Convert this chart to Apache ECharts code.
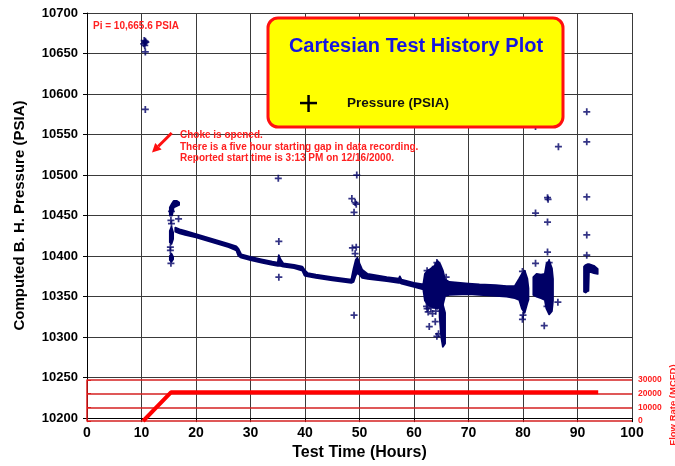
<!DOCTYPE html>
<html>
<head>
<meta charset="utf-8">
<script src="https://cdn.jsdelivr.net/npm/echarts@6/dist/echarts.min.js"></script>
<style>
  html, body { margin: 0; padding: 0; background: #fff; }
  #chart { width: 675px; height: 466px; }
</style>
</head>
<body>
<div id="chart"></div>
<script>
// dense pressure record, read as envelope (low/high) per hour; null breaks a run
const bandHours = [15.2,15.6,15.9,16.5,16.9, null,
  15.2,15.5,15.8, null,
  15.2,15.5,15.8, null,
  16.2,17,18,20,22,24,26,27.4,27.8,28.3,30,32,34,35.0,35.2,35.5,36,38,39.5,39.9,40.5,42,45,48.5,48.9,49.3,49.6,50,50.5,51.5,55,57.2,57.4,57.7,60,61.7,62,62.5,63,63.8,64.3,64.8,65.3,65.7,66.5,70,72,75,77,78.5,79.3,79.8,80.3,80.8,81.0, null,
  64.7,65.0,65.3,65.7, null,
  81.9,82.5,83.3,84,84.3,84.8,85.3,85.5, null,
  91.2,91.5,91.9,92.0,92.1,93,93.7];
const bandLow = [10450,10450,10460,10462,10463, null,
  10417,10415,10421, null,
  10395,10393,10396, null,
  10430,10428,10426,10423,10419,10415,10411,10407,10400,10398,10395,10392,10389,10388,10388,10388,10387,10385,10382,10376,10375,10373,10370,10367,10368,10376,10379,10377,10373,10372,10369,10367,10367,10366,10362,10359,10345,10340,10338,10336,10335,10338,10340,10351,10352,10353,10352,10351,10350,10348,10346,10335,10330,10342,10346, null,
  10325,10300,10288,10292, null,
  10352,10350,10348,10346,10335,10328,10332,10345, null,
  10356,10355,10357,10357,10381,10379,10378];
const bandHigh = [10460,10465,10468,10468,10466, null,
  10431,10436,10429, null,
  10400,10403,10399, null,
  10435,10433,10431,10427,10423,10419,10415,10412,10409,10402,10399,10396,10393,10392,10401,10396,10391,10389,10387,10383,10379,10377,10374,10371,10384,10395,10398,10391,10383,10378,10374,10372,10375,10371,10367,10365,10378,10382,10384,10388,10394,10390,10382,10371,10368,10366,10365,10364,10363,10363,10372,10378,10382,10372,10360, null,
  10345,10345,10340,10330, null,
  10374,10378,10377,10378,10390,10394,10385,10372, null,
  10387,10389,10390,10390,10390,10388,10384];

// isolated pressure readings
const outlierHours = [10.5,10.7,10.6,10.4,10.8,10.6,10.7,10.7,
  15.4,15.5,16.8,15.5,15.3,15.3,15.4,
  35.1,35.2,35.2,
  49.5,48.6,49.2,49.4,49.0,48.7,49.4,49.2,49.0,
  62.4,62.3,62.8,63.9,64.5,64.2,64.2,63.9,62.4,65.9,63.1,62.6,63.4,64.0,
  79.9,80.0,79.9,
  82.3,82.3,82.3,84.5,84.6,84.5,84.5,84.8,86.5,86.4,83.9,84.4,
  91.7,91.7,91.7,91.7,91.7];
const outlierPsi = [10666,10665,10663,10662,10664,10660,10652,10581,
  10444,10440,10446,10455,10411,10407,10391,
  10496,10418,10374,
  10500,10471,10466,10464,10454,10410,10411,10403,10327,
  10335,10338,10313,10319,10304,10301,10392,10387,10382,10374,10336,10331,10329,10332,
  10322,10327,10381,
  10560,10453,10391,10472,10470,10442,10405,10392,10535,10343,10314,10338,
  10578,10541,10473,10426,10401];

// gas flow rate
const flowHours = [10.3, 15.4, 93.8];
const flowRate = [0, 21000, 21000];

const navy = '#000066';
const plus = 'path://M3,0h2v3h3v2h-3v3h-2v-3h-3v-2h3z';
const font = 'Liberation Sans, Arial, sans-serif';
const plain = v => String(v);

// split envelope arrays into runs
const runs = [];
let cur = [];
bandHours.forEach((h, i) => {
  if (h === null) { if (cur.length) runs.push(cur); cur = []; return; }
  cur.push([h, bandLow[i], bandHigh[i]]);
});
if (cur.length) runs.push(cur);

const chart = echarts.init(document.getElementById('chart'));
chart.setOption({
  animation: false,
  backgroundColor: '#fff',
  textStyle: { fontFamily: font },
  grid: [
    { left: 87, top: 13, width: 545, height: 408 },
    { left: 87, top: 380, width: 545, height: 41 }
  ],
  xAxis: [
    {
      type: 'value', gridIndex: 0, min: 0, max: 100, interval: 10,
      axisLine: { lineStyle: { color: '#000', width: 1 } },
      axisTick: { show: true, length: 4, lineStyle: { color: '#000' } },
      axisLabel: { color: '#000', fontWeight: 'bold', fontSize: 14, margin: 8, fontFamily: font, formatter: plain },
      splitLine: { show: true, lineStyle: { color: '#3a3a3a', width: 1 } },
      name: 'Test Time (Hours)', nameLocation: 'middle', nameGap: 26,
      nameTextStyle: { color: '#000', fontWeight: 'bold', fontSize: 16, fontFamily: font }
    },
    { type: 'value', gridIndex: 1, min: 0, max: 100, show: false }
  ],
  yAxis: [
    {
      type: 'value', gridIndex: 0, min: 10200, max: 10700, interval: 50,
      axisLine: { show: true, lineStyle: { color: '#000', width: 1 } },
      axisTick: { show: true, length: 4, lineStyle: { color: '#000' } },
      axisLabel: { color: '#000', fontWeight: 'bold', fontSize: 13, margin: 9, fontFamily: font, formatter: plain },
      splitLine: { show: true, lineStyle: { color: '#3a3a3a', width: 1 } },
      name: 'Computed B. H. Pressure (PSIA)', nameLocation: 'middle', nameGap: 60, nameRotate: 90,
      nameTextStyle: { color: '#000', fontWeight: 'bold', fontSize: 15, fontFamily: font }
    },
    {
      type: 'value', gridIndex: 1, position: 'right', min: 0, max: 30000, interval: 10000, z: 3,
      axisLine: { show: true, lineStyle: { color: '#e01818', width: 1.5 } },
      axisTick: { show: true, length: 4, lineStyle: { color: '#e01818' } },
      axisLabel: { color: '#ff2020', fontWeight: 'bold', fontSize: 8.5, margin: 6, fontFamily: font, formatter: plain },
      splitLine: { show: true, lineStyle: { color: '#d42020', width: 1.5 } }
    }
  ],
  series: [
    {
      type: 'custom', xAxisIndex: 0, yAxisIndex: 0, z: 4,
      data: runs.map((r, i) => [i, 10300]),
      renderItem: function (params, api) {
        const run = runs[api.value(0)];
        const pts = [];
        run.forEach(p => pts.push(api.coord([p[0], p[2]])));
        for (let k = run.length - 1; k >= 0; k--) pts.push(api.coord([run[k][0], run[k][1]]));
        return { type: 'polygon', shape: { points: pts },
          style: { fill: navy, stroke: navy, lineWidth: 1.8, lineJoin: 'round' } };
      }
    },
    {
      type: 'scatter', xAxisIndex: 0, yAxisIndex: 0, z: 4,
      symbol: plus, symbolSize: 7,
      itemStyle: { color: navy },
      data: outlierHours.map((h, i) => [h, outlierPsi[i]])
    },
    {
      type: 'line', xAxisIndex: 1, yAxisIndex: 1, z: 5,
      symbol: 'none', clip: false,
      lineStyle: { color: '#ff0000', width: 4 },
      data: flowHours.map((h, i) => [h, flowRate[i]])
    }
  ],
  graphic: [
    { type: 'text', left: 93, top: 21, z: 10,
      style: { text: 'Pi = 10,665.6 PSIA', fill: '#ff2020', font: 'bold 10px ' + font } },
    { type: 'rect', z: 10, shape: { x: 268, y: 18, width: 295, height: 109, r: 10 },
      style: { fill: '#ffff00', stroke: '#ff1010', lineWidth: 3 } },
    { type: 'text', z: 11, x: 416, y: 46,
      style: { text: 'Cartesian Test History Plot', fill: '#1515e0', font: 'bold 20px ' + font,
        textAlign: 'center', textVerticalAlign: 'middle' } },
    { type: 'rect', z: 11, shape: { x: 300, y: 101.8, width: 17, height: 2.5 }, style: { fill: '#000' } },
    { type: 'rect', z: 11, shape: { x: 307.3, y: 95, width: 2.5, height: 17 }, style: { fill: '#000' } },
    { type: 'text', z: 11, x: 347, y: 103,
      style: { text: 'Pressure (PSIA)', fill: '#111', font: 'bold 13.5px ' + font,
        textAlign: 'left', textVerticalAlign: 'middle' } },
    { type: 'text', z: 10, x: 180, y: 130,
      style: { text: 'Choke is opened.\nThere is a five hour starting gap in data recording.\nReported start time is 3:13 PM on 12/16/2000.',
        fill: '#ff2020', font: 'bold 10px ' + font, lineHeight: 11.3, textVerticalAlign: 'top' } },
    { type: 'polyline', z: 10, shape: { points: [[171.7, 133], [158.4, 146.2]] },
      style: { stroke: '#ff1010', lineWidth: 3 } },
    { type: 'polygon', z: 10, shape: { points: [[152, 152.5], [161.6, 149.4], [155.2, 143.0]] },
      style: { fill: '#ff1010' } },
    { type: 'text', z: 10, x: 673, y: 405, rotation: Math.PI / 2,
      style: { text: 'Flow Rate (MCFD)', fill: '#ff2020', font: 'bold 9.5px ' + font,
        textAlign: 'center', textVerticalAlign: 'middle' } }
  ]
});
</script>
</body>
</html>
